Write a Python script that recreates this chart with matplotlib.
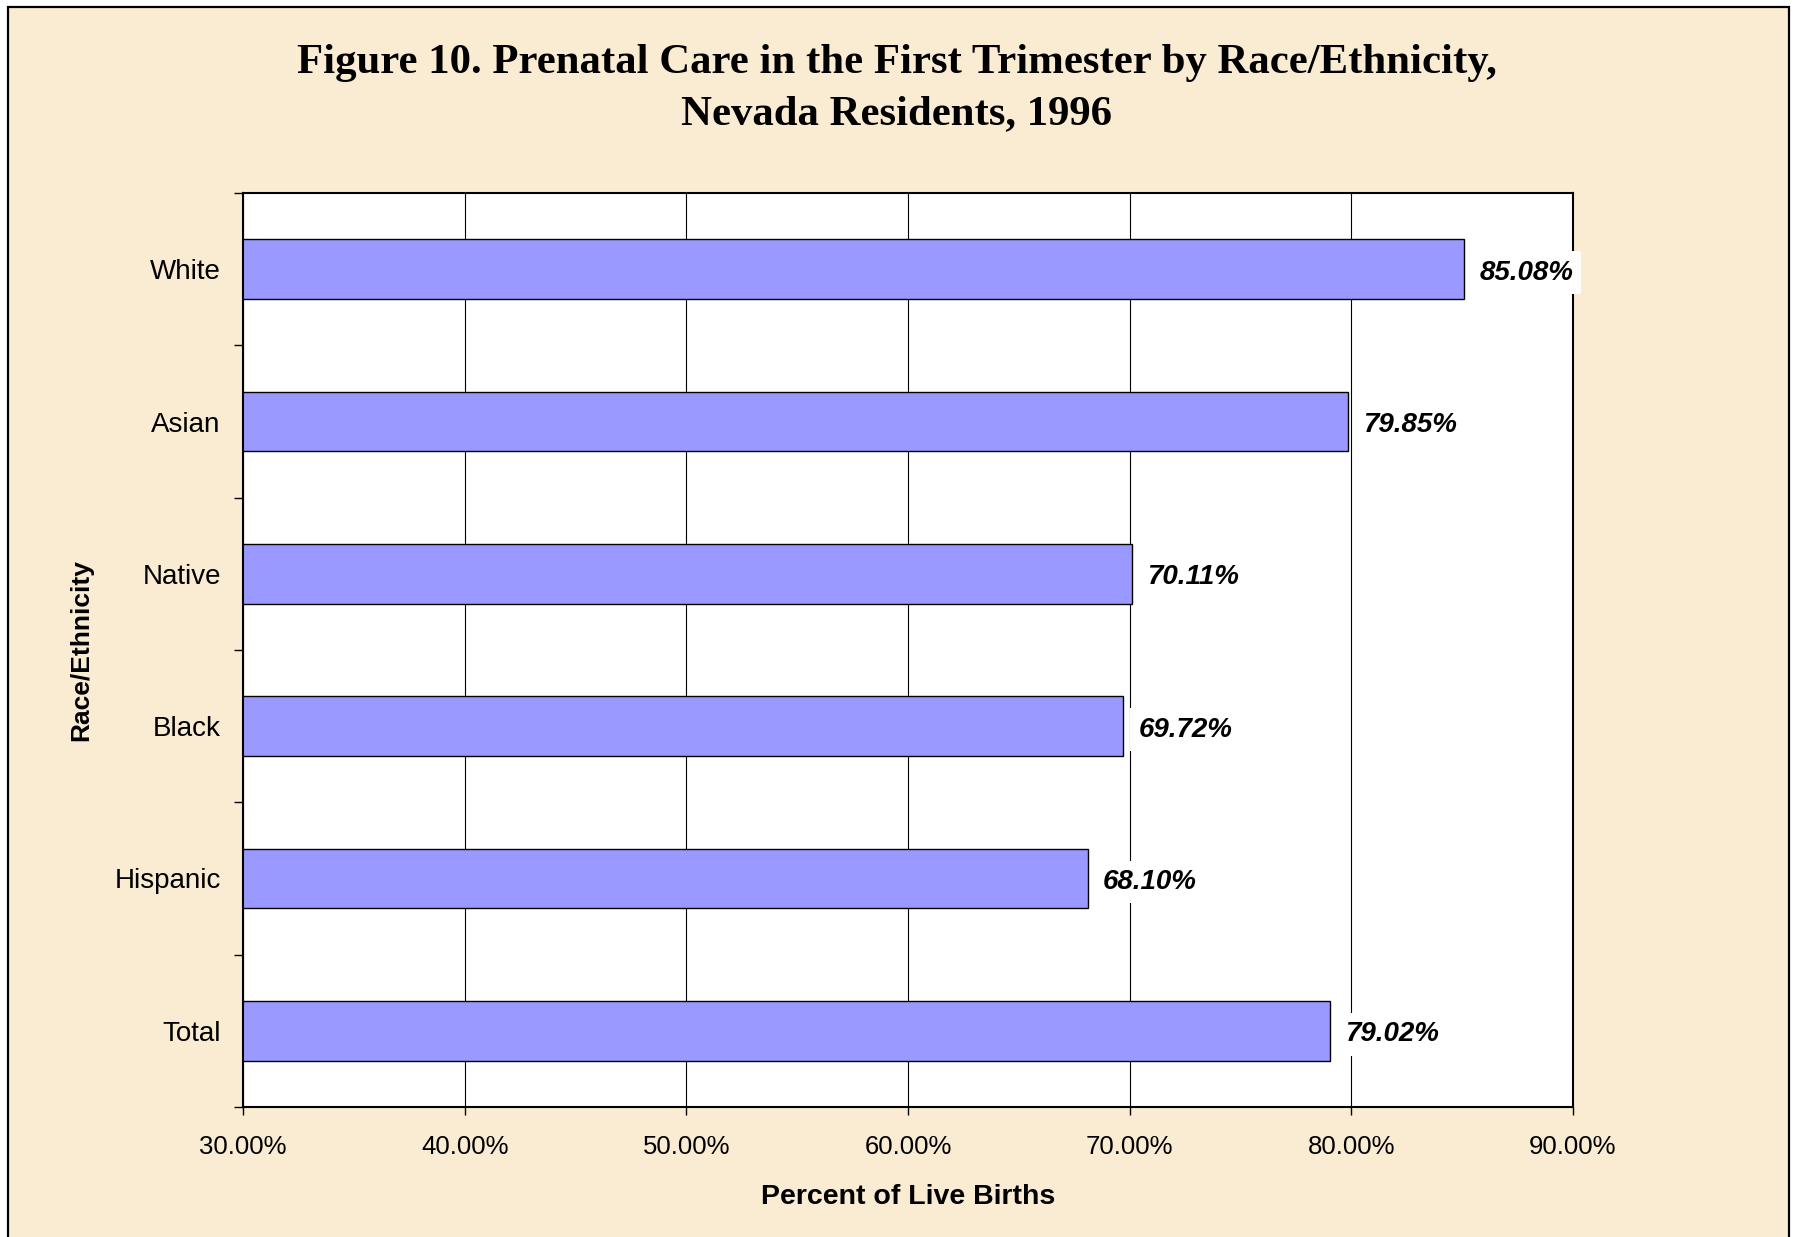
import matplotlib
matplotlib.use("Agg")
import matplotlib.pyplot as plt
from matplotlib.patches import Rectangle
from matplotlib.ticker import FixedLocator

# ---- data ----
categories = ["White", "Asian", "Native", "Black", "Hispanic", "Total"]
values = [85.08, 79.85, 70.11, 69.72, 68.10, 79.02]
x_ticks = [30, 40, 50, 60, 70, 80, 90]
x_tick_labels = ["30.00%", "40.00%", "50.00%", "60.00%", "70.00%", "80.00%", "90.00%"]
title_lines = ["Figure 10. Prenatal Care in the First Trimester by Race/Ethnicity,",
               "Nevada Residents, 1996"]
x_label = "Percent of Live Births"
y_label = "Race/Ethnicity"

# ---- style ----
W, H = 1793, 1237
DPI = 100
cream = "#FAECD2"
bar_color = "#9999FF"
sans = ["Liberation Sans", "DejaVu Sans"]
serif = ["Liberation Serif", "DejaVu Serif"]

fig = plt.figure(figsize=(W / DPI, H / DPI), dpi=DPI, facecolor="white")

# outer chart-area frame
frame = Rectangle((8 / W, -0.02), (1789 - 8) / W, (H - 7) / H + 0.02,
                  transform=fig.transFigure, facecolor=cream, edgecolor="black",
                  linewidth=1.6, zorder=-10)
fig.patches.append(frame)

ax_l, ax_r, ax_t, ax_b = 243, 1573, 193, 1107
ax = fig.add_axes([ax_l / W, 1 - ax_b / H, (ax_r - ax_l) / W, (ax_b - ax_t) / H])
ax.set_zorder(1)
ax.set_facecolor("white")

ypos = list(range(len(categories)))
ax.barh(ypos, values, height=0.39, color=bar_color, edgecolor="black",
        linewidth=1.0, zorder=2)

ax.set_xlim(30, 90)
ax.set_ylim(len(categories) - 0.5, -0.5)
ax.set_axisbelow(True)

ax.xaxis.set_major_locator(FixedLocator(x_ticks))
ax.set_xticklabels(x_tick_labels, fontsize=18.5, family=sans)
ax.tick_params(axis="x", which="major", direction="out", length=6, width=1.0,
               pad=14, color="black")

ax.set_yticks(ypos)
ax.set_yticklabels(categories, fontsize=20, family=sans)
ax.tick_params(axis="y", which="major", length=0, pad=16)
ax.yaxis.set_minor_locator(FixedLocator([i - 0.5 for i in range(len(categories) + 1)]))
ax.tick_params(axis="y", which="minor", direction="out", length=6.5, width=1.0,
               color="black")

ax.grid(axis="x", which="major", color="black", linewidth=0.8)

for s in ax.spines.values():
    s.set_linewidth(1.5)
    s.set_color("black")

# value labels
for y, v in zip(ypos, values):
    ax.annotate(f"{v:.2f}%", xy=(v, y), xytext=(11, -2.5), textcoords="offset points",
                ha="left", va="center", fontsize=20, fontweight="bold",
                fontstyle="italic", family=sans, clip_on=False, zorder=5,
                bbox=dict(boxstyle="square,pad=0.3", facecolor="white",
                          edgecolor="none"))

ax.set_xlabel(x_label, fontsize=20.5, fontweight="bold", family=sans)
ax.xaxis.set_label_coords(0.5, (ax_b - 1197) / (ax_b - ax_t))
ax.xaxis.label.set_va("center")

ax.set_ylabel(y_label, fontsize=19, fontweight="bold", family=sans)
ax.yaxis.set_label_coords((81 - ax_l) / (ax_r - ax_l), 0.5)
ax.yaxis.label.set_va("center")

for line, yc in zip(title_lines, [63, 114]):
    fig.text(0.5, 1 - yc / H, line, ha="center", va="center", fontsize=30.8,
             fontweight="bold", family=serif)

fig.savefig("out.png", dpi=DPI, facecolor=fig.get_facecolor())
